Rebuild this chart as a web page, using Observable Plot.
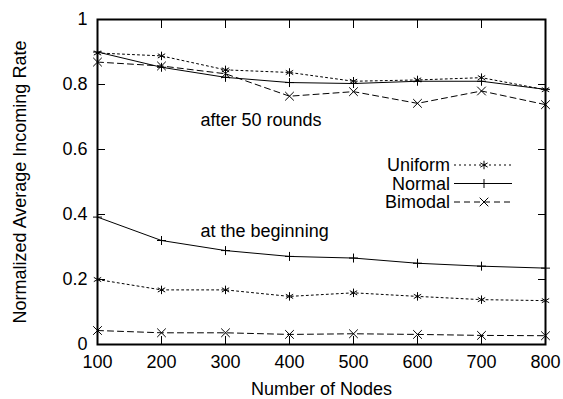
<!DOCTYPE html>
<html><head><meta charset="utf-8">
<script src="https://cdn.jsdelivr.net/npm/d3@7"></script>
<script src="https://cdn.jsdelivr.net/npm/@observablehq/plot@0.6"></script>
<style>
body{margin:0;background:#fff;}
#wrap{position:relative;width:563px;height:399px;font-family:"Liberation Sans",Arial,sans-serif;}
#legend{position:absolute;left:0;top:0;pointer-events:none;}
</style></head><body>
<div id="wrap"></div>
<script>
// ---- data ----
const nodes = [100, 200, 300, 400, 500, 600, 700, 800];
const uniformAfter = [0.897, 0.888, 0.845, 0.837, 0.81, 0.814, 0.821, 0.784];
const normalAfter  = [0.900, 0.853, 0.822, 0.806, 0.803, 0.81, 0.81, 0.785];
const bimodalAfter = [0.869, 0.857, 0.833, 0.764, 0.778, 0.742, 0.78, 0.738];
const uniformBegin = [0.200, 0.168, 0.168, 0.148, 0.159, 0.148, 0.138, 0.135];
const normalBegin  = [0.392, 0.320, 0.289, 0.271, 0.266, 0.250, 0.241, 0.235];
const bimodalBegin = [0.043, 0.036, 0.036, 0.031, 0.033, 0.031, 0.028, 0.027];
const seriesNames = ["Uniform", "Normal", "Bimodal"];
const xTicks = [100, 200, 300, 400, 500, 600, 700, 800];
const yTicks = [0, 0.2, 0.4, 0.6, 0.8, 1];
const annotationText = ["after 50 rounds", "at the beginning"];
const annotationX = [261, 261];
const annotationY = [0.69, 0.35];

const FONT = 18;
// ---- styles per series ----
const styles = {
  Uniform: {symbol: "asterisk", r: 4, dash: "2,3"},
  Normal:  {symbol: "plus", r: 3, dash: null},
  Bimodal: {symbol: "times", r: 4, dash: "6,4"}
};
const groups = [
  ["Uniform", uniformAfter], ["Normal", normalAfter], ["Bimodal", bimodalAfter],
  ["Uniform", uniformBegin], ["Normal", normalBegin], ["Bimodal", bimodalBegin]
];

const marks = [];
for (const [name, vals] of groups) {
  const data = nodes.map((n, i) => ({n, v: vals[i]}));
  const s = styles[name];
  marks.push(Plot.line(data, {x: "n", y: "v", stroke: "#000", strokeWidth: 1, strokeDasharray: s.dash ?? undefined}));
  marks.push(Plot.dot(data, {x: "n", y: "v", symbol: s.symbol, r: s.r, stroke: "#000", strokeWidth: 1}));
}
const ann = annotationText.map((t, i) => ({t, x: annotationX[i], y: annotationY[i]}));
marks.push(Plot.text(ann, {x: "x", y: "y", text: "t", textAnchor: "start", fill: "#000", fontSize: FONT}));

// ticks (inward, mirrored)
marks.push(Plot.axisX(xTicks, {anchor: "bottom", tickSize: -8, fill: "none", label: null}));
marks.push(Plot.axisX(xTicks, {anchor: "top", tickSize: -8, fill: "none", label: null}));
marks.push(Plot.axisY(yTicks, {anchor: "left", tickSize: -8, fill: "none", label: null}));
marks.push(Plot.axisY(yTicks, {anchor: "right", tickSize: -8, fill: "none", label: null}));
// labels
marks.push(Plot.axisX(xTicks, {anchor: "bottom", tickSize: 0, tickPadding: 11, fill: "#000",
  label: "Number of Nodes", labelAnchor: "center", labelArrow: "none", labelOffset: 50}));
marks.push(Plot.axisY(yTicks, {anchor: "left", tickSize: 0, tickPadding: 10, fill: "#000", tickFormat: d => String(d),
  label: "Normalized Average Incoming Rate", labelAnchor: "center", labelArrow: "none", labelOffset: 84}));
marks.push(Plot.frame({stroke: "#000", strokeWidth: 2}));

const chart = Plot.plot({
  width: 563, height: 399,
  marginLeft: 97, marginRight: 18, marginTop: 19, marginBottom: 55,
  x: {domain: [100, 800]},
  y: {domain: [0, 1]},
  style: {fontSize: FONT + "px", fontFamily: "'Liberation Sans', Arial, sans-serif", color: "#000", background: "#fff"},
  marks
});
const wrap = document.getElementById("wrap");
wrap.appendChild(chart);

// ---- legend overlay ----
const leg = d3.select(wrap).append("svg").attr("id", "legend").attr("width", 563).attr("height", 399)
  .style("font-family", "'Liberation Sans', Arial, sans-serif").style("font-size", FONT + "px");
const symMap = {asterisk: d3.symbolAsterisk, plus: d3.symbolPlus, times: d3.symbolTimes};
seriesNames.forEach((name, i) => {
  const s = styles[name];
  const g = leg.append("g").attr("transform", `translate(0,${165 + i * 18.5})`);
  g.append("text").attr("x", 450).attr("y", 0).attr("dy", "0.35em").attr("text-anchor", "end").attr("fill", "#000").text(name);
  g.append("line").attr("x1", 454).attr("x2", 512).attr("y1", 0).attr("y2", 0)
    .attr("stroke", "#000").attr("stroke-width", 1).attr("stroke-dasharray", s.dash);
  g.append("path").attr("transform", "translate(484,0)")
    .attr("d", d3.symbol(symMap[s.symbol], Math.PI * s.r * s.r)())
    .attr("fill", "none").attr("stroke", "#000").attr("stroke-width", 1);
});
</script>
</body></html>
